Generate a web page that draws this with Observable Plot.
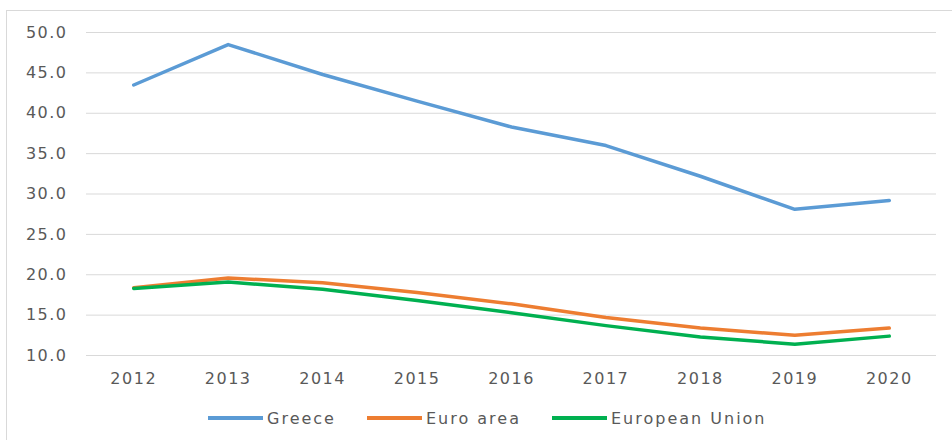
<!DOCTYPE html>
<html><head><meta charset="utf-8">
<script src="https://cdn.jsdelivr.net/npm/d3@7"></script>
<script src="https://cdn.jsdelivr.net/npm/@observablehq/plot@0.6"></script>
<style>
body{margin:0;background:#fff;}
#wrap{position:relative;width:952px;height:440px;overflow:hidden;font-family:"DejaVu Sans";}
#frame{position:absolute;left:6px;top:10px;width:1000px;height:500px;border:1px solid #d9d9d9;box-sizing:border-box;}
#chart{position:absolute;left:0;top:0;}
#chart svg text{letter-spacing:1.5px;}
#legend{position:absolute;left:208px;top:408px;height:20px;display:flex;align-items:center;font-size:16px;color:#595959;letter-spacing:2px;white-space:nowrap;}
.item{display:flex;align-items:center;margin-right:31px;}
.sw{width:55px;height:4px;margin-right:4px;}
</style></head>
<body>
<div id="wrap"><div id="frame"></div><div id="chart"></div><div id="legend"></div></div>
<script>
const years = [2012, 2013, 2014, 2015, 2016, 2017, 2018, 2019, 2020];
const yTicks = [10, 15, 20, 25, 30, 35, 40, 45, 50];
const series = ["Greece", "Euro area", "European Union"];
const colors = ["#5B9BD5", "#ED7D31", "#00B050"];
const greece = [43.5, 48.5, 44.8, 41.5, 38.3, 36.0, 32.2, 28.1, 29.2];
const euroArea = [18.4, 19.6, 19.0, 17.8, 16.4, 14.7, 13.4, 12.5, 13.4];
const europeanUnion = [18.3, 19.1, 18.2, 16.8, 15.3, 13.7, 12.3, 11.4, 12.4];

const values = [greece, euroArea, europeanUnion];
const rows = [];
series.forEach((s, i) => years.forEach((yr, j) => rows.push({series: s, year: yr, value: values[i][j]})));

const chart = Plot.plot({
  width: 952, height: 395,
  marginLeft: 86, marginRight: 16, marginTop: 32, marginBottom: 40,
  style: {fontFamily: "DejaVu Sans", fontSize: "16px", color: "#595959", background: "transparent", overflow: "visible"},
  x: {domain: [2011.5, 2020.5], ticks: years, tickFormat: d => String(d), tickSize: 0, tickPadding: 17, label: null},
  y: {domain: [10, 50], ticks: yTicks, tickFormat: d => d.toFixed(1), tickSize: 0, tickPadding: 19, label: null},
  color: {domain: series, range: colors},
  marks: [
    Plot.ruleY(yTicks, {stroke: "#d9d9d9", strokeWidth: 1}),
    Plot.line(rows, {x: "year", y: "value", z: "series", stroke: "series", strokeWidth: 3.5})
  ]
});
document.getElementById("chart").appendChild(chart);

const legend = document.getElementById("legend");
series.forEach((s, i) => {
  const item = document.createElement("div");
  item.className = "item";
  const sw = document.createElement("div");
  sw.className = "sw";
  sw.style.background = colors[i];
  const t = document.createElement("span");
  t.textContent = s;
  item.appendChild(sw); item.appendChild(t);
  legend.appendChild(item);
});
</script>
</body></html>
